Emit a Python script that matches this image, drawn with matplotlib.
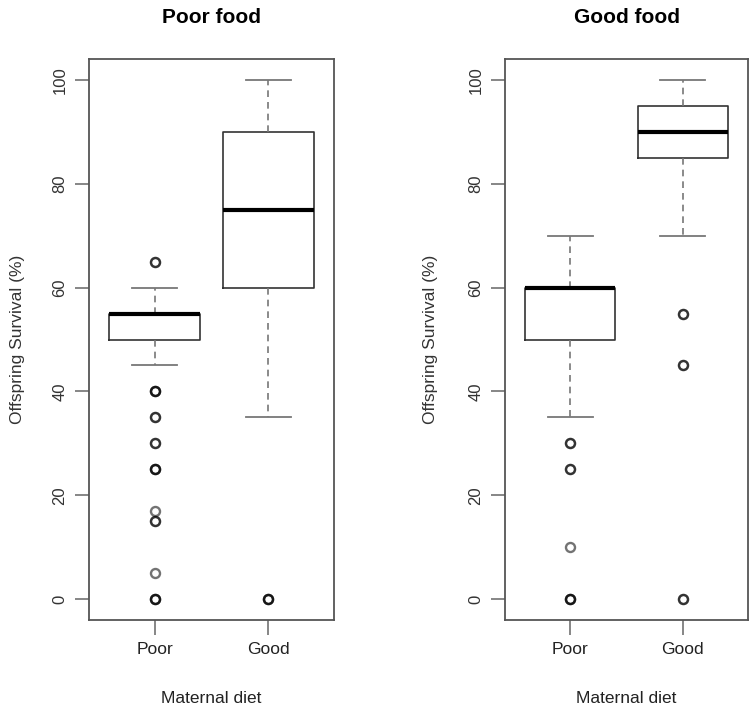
import numpy as np
import matplotlib.pyplot as plt

plt.rcParams['font.family'] = ['Liberation Sans', 'DejaVu Sans']

# Maternal diet groups on the x axis
diets = ["Poor", "Good"]
panel_titles = ["Poor food", "Good food"]

# Box summaries per panel: [Poor, Good]
q1 = [[50, 60], [50, 85]]
med = [[55, 75], [60, 90]]
q3 = [[55, 90], [60, 95]]
whislo = [[45, 35], [35, 70]]
whishi = [[60, 100], [70, 100]]

# Outlying survival values (repeats are overlapping offspring)
fliers = [
    [[65, 65, 40, 40, 40, 35, 35, 30, 30, 25, 25, 25, 17, 15, 15, 5, 0, 0, 0],
     [0, 0, 0]],
    [[30, 30, 25, 25, 10, 0, 0, 0],
     [55, 55, 45, 45, 0, 0]],
]

yticks = [0, 20, 40, 60, 80, 100]

fig = plt.figure(figsize=(7.5, 7.11), dpi=100)
W, H = 750, 711
boxes = [(89, 245), (505, 243)]
ylab_x = [-0.262, -0.276]

for i, (x0, w) in enumerate(boxes):
    ax = fig.add_axes([x0 / W, (H - 620) / H, w / W, 561 / H])
    stats = []
    for j, name in enumerate(diets):
        stats.append(dict(label=name, med=med[i][j], q1=q1[i][j], q3=q3[i][j],
                          whislo=whislo[i][j], whishi=whishi[i][j],
                          fliers=fliers[i][j]))
    ax.bxp(stats, positions=[1, 2], widths=0.8, capwidths=0.4,
           boxprops=dict(color="#333333", linewidth=1.2),
           whiskerprops=dict(color="#777777", linewidth=1.2, linestyle=(0, (4, 3))),
           capprops=dict(color="#777777", linewidth=1.3),
           medianprops=dict(color="black", linewidth=3),
           flierprops=dict(marker="o", markersize=6.5, markerfacecolor="none",
                           markeredgecolor="black", markeredgewidth=1.7,
                           alpha=0.55, linestyle="none"))
    ax.set_xlim(0.42, 2.58)
    ax.set_ylim(-4, 104)
    ax.set_yticks(yticks)
    ax.set_xticks([1, 2], diets)
    for s in ax.spines.values():
        s.set_color("#555555")
        s.set_linewidth(1.3)
    ax.tick_params(axis="y", length=10, width=1.1, color="#666666", pad=5.5,
                   labelsize=12, labelcolor="#333333", labelrotation=90)
    for t in ax.get_yticklabels():
        t.set_verticalalignment("center")
    ax.tick_params(axis="x", length=11, width=1.1, color="#666666", pad=5,
                   labelsize=12.5, labelcolor="#222222")
    ax.set_ylabel("Offspring Survival (%)", fontsize=12.5, color="#333333")
    ax.yaxis.set_label_coords(ylab_x[i], 0.5)
    ax.set_xlabel("Maternal diet", fontsize=12.5, color="#222222")
    ax.xaxis.set_label_coords(0.5, -0.127)
    ax.set_title(panel_titles[i], fontsize=15, fontweight="bold", pad=26)

fig.savefig("out.png", dpi=100)
